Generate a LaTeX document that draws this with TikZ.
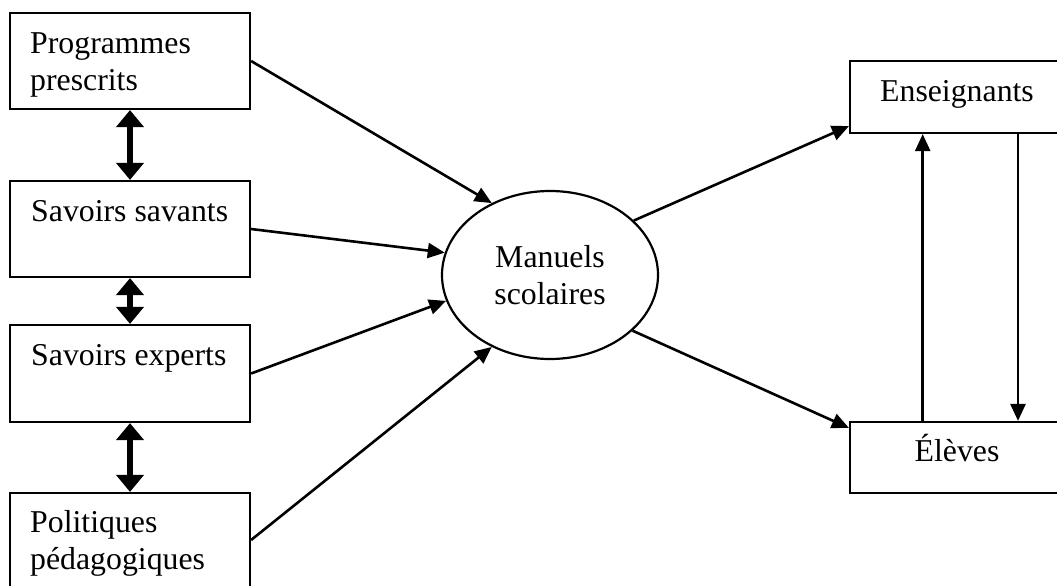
\documentclass[tikz,border=0pt]{standalone}
\usepackage{fontspec}
\setmainfont{Liberation Serif}
\usetikzlibrary{arrows.meta,shapes.geometric,calc}
\begin{document}
\begin{tikzpicture}[x=1pt,y=-1pt,
  box/.style={draw,line width=2.2pt,minimum width=240pt,inner sep=0pt},
  rbox/.style={draw,line width=2.2pt,minimum width=214pt,inner sep=0pt},
  lbl/.style={anchor=base west,inner sep=0pt,font=\fontsize{31.8}{37}\selectfont},
  clbl/.style={anchor=base,inner sep=0pt,font=\fontsize{31.8}{37}\selectfont},
  thin/.style={line width=2.6pt,-{Triangle[length=17pt,width=15pt]}},
  thick/.style={line width=6.5pt,{Triangle[length=17pt,width=27pt]}-{Triangle[length=17pt,width=27pt]}}]
\useasboundingbox (0,0) rectangle (1057,586);
\fill[white] (0,0) rectangle (1057,586);
\clip (0,0) rectangle (1057,586);
% left boxes
\node[box,minimum height=96pt] (p) at (130,61) {};
\node[box,minimum height=96pt] (s) at (130,229) {};
\node[box,minimum height=97pt] (x) at (130,373.5) {};
\node[box,minimum height=94pt] (q) at (130,540) {};
\node[lbl] (pt) at (30,53) {\begin{tabular}[t]{@{}l@{}}Programmes\\prescrits\end{tabular}};
\node[lbl] (st) at (31,221.5) {Savoirs savants};
\node[lbl] (xt) at (31,365) {Savoirs experts};
\node[lbl] (qt) at (30,532) {\begin{tabular}[t]{@{}l@{}}Politiques\\p\'edagogiques\end{tabular}};
% ellipse
\node[draw,ellipse,line width=2.2pt,minimum width=216pt,minimum height=168pt,inner sep=0pt,
  align=center,font=\fontsize{31.8}{37}\selectfont] (m) at (550,275) {Manuels\\scolaires};
% right boxes
\node[rbox,minimum height=72pt] (e) at (957,97) {};
\node[rbox,minimum height=71pt] (l) at (957,457.5) {};
\node[clbl] (et) at (957,101.7) {Enseignants};
\node[clbl] (lt) at (957,461.7) {\'El\`eves};
% double arrows
\draw[thick] (p.south) -- (s.north);
\draw[thick] (s.south) -- (x.north);
\draw[thick] (x.south) -- (q.north);
% arrows to ellipse
\draw[thin] (p.east) -- (m.129.8);
\draw[thin] (s.east) -- (m.168);
\draw[thin] (x.east) -- (m.194);
\draw[thin] (q.east) -- (m.231);
% arrows from ellipse
\draw[thin] (m.33) -- ([yshift=8pt]e.south west);
\draw[thin] (m.326) -- ([yshift=-7pt]l.north west);
% vertical arrows between right boxes
\draw[thin] ([xshift=-34.3pt]l.north) -- ([xshift=-34.3pt]e.south);
\draw[thin] ([xshift=61pt]e.south) -- ([xshift=61pt]l.north);
\end{tikzpicture}
\end{document}
